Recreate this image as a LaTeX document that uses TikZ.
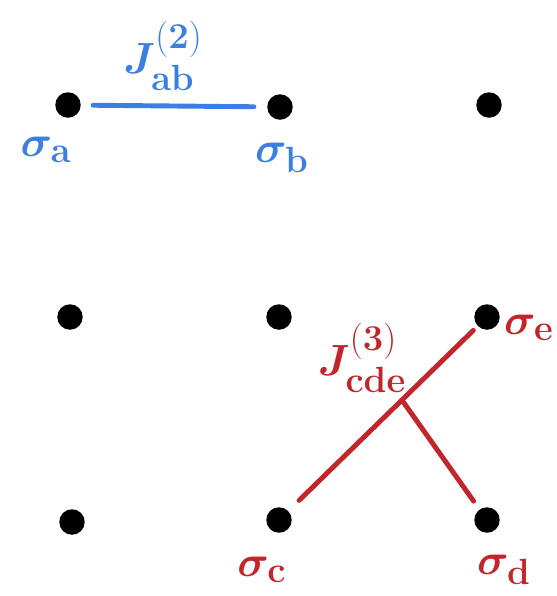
\documentclass[tikz,border=0pt]{standalone}
\usepackage{amsmath,bm}
\usepackage{xcolor}
\usetikzlibrary{positioning}

\definecolor{pairblue}{HTML}{3B7FE4}
\definecolor{tripred}{HTML}{C2262B}

\begin{document}
\begin{tikzpicture}[
      x={(0.02cm,0cm)}, % one reference pixel to the right
      y={(0cm,-0.02cm)}, % one reference pixel downwards
      font=\fontsize{31}{33}\selectfont,
      spin/.style={circle, fill=black, inner sep=0pt, minimum size=0.51cm},
      pair/.style={pairblue, line width=2.8pt, line cap=round},
      trip/.style={tripred, line width=2.8pt, line cap=round},
      plabel/.style={pairblue, inner sep=0pt},
      tlabel/.style={tripred, inner sep=0pt},
    ]
    \useasboundingbox (0,0) rectangle (557,596);

    % ---- lattice of spins -------------------------------------------------
    \foreach \name/\px/\py in {s11/68/105, s12/280/107, s13/489/105,
                              s21/70/317, s22/279/317, s23/487/317,
                              s31/72/522, s32/279/520, s33/487/520}{%
      \node[spin] (\name) at (\px,\py) {};
    }

    % ---- two-spin coupling --------------------------------------------------
    \draw[pair, shorten <=0.24cm, shorten >=0.26cm] (s11) -- (s12);
    \node[plabel] (jab) at (163,56) {$\bm{J}^{\mathbf{(2)}}_{\mathbf{ab}}$};
    \node[plabel] (siga) at (46,150) {$\bm{\sigma}_{\mathbf{a}}$};
    \node[plabel] (sigb) at (282,158) {$\bm{\sigma}_{\mathbf{b}}$};

    % ---- three-spin coupling ------------------------------------------------
    \draw[trip, shorten <=0.3cm, shorten >=0.12cm] (s32) -- (s23)
      coordinate[pos=0.6] (fork);
    \draw[trip, shorten >=0.2cm] (fork) -- (s33);
    \node[tlabel] (jcde) at (362,358) {$\bm{J}^{\mathbf{(3)}}_{\mathbf{cde}}$};
    \node[tlabel] (sige) at (529,328) {$\bm{\sigma}_{\mathbf{e}}$};
    \node[tlabel] (sigc) at (262,570) {$\bm{\sigma}_{\mathbf{c}}$};
    \node[tlabel] (sigd) at (504,570) {$\bm{\sigma}_{\mathbf{d}}$};
  \end{tikzpicture}
\end{document}
